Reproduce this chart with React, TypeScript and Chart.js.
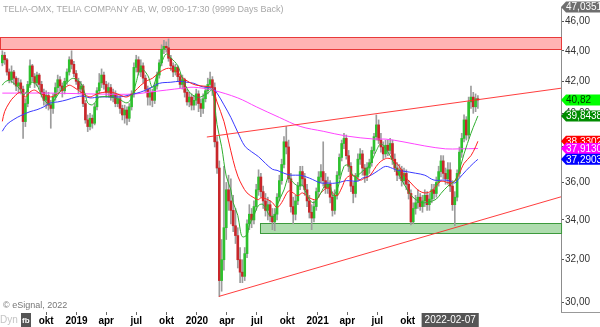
import { useEffect, useRef } from 'react';
import { Chart, registerables } from 'chart.js';
Chart.register(...registerables);

// Weekly candles, index 0 = week of 2018-05-21
const opens = [43.2,43.7,43.4,42.6,42.1,42.6,42.2,41.7,41.9,41.5,39.5,40.6,41.8,43.0,42.3,41.9,42.4,41.8,41.3,40.8,41.1,40.5,40.3,41.0,41.6,42.1,41.7,41.4,42.0,42.6,43.4,43.1,42.5,42.0,41.5,41.7,40.6,39.6,39.2,39.7,39.4,40.4,41.4,41.9,42.4,41.8,41.3,41.6,41.0,41.2,40.6,40.9,40.3,39.9,40.2,39.7,40.4,41.2,42.9,43.4,42.6,43.0,42.2,41.5,41.0,41.3,40.8,41.7,42.4,43.2,44.1,44.3,44.2,43.5,43.0,42.6,42.9,42.3,41.8,42.1,41.3,40.7,41.0,40.5,40.8,41.2,40.6,40.3,40.9,41.4,41.8,42.1,41.6,38.3,36.8,31.0,32.0,33.6,35.6,35.0,34.5,33.7,33.2,32.0,31.4,31.2,32.3,33.8,34.3,34.0,34.7,35.6,36.3,35.5,35.0,34.5,34.8,34.2,33.9,34.3,35.2,36.1,37.0,38.3,38.0,36.2,34.7,34.3,35.0,35.8,36.6,36.2,35.6,35.0,34.4,34.1,34.7,35.5,36.3,36.6,36.1,35.7,35.9,35.2,34.5,35.3,36.4,37.4,38.2,38.5,37.5,36.9,35.8,35.4,36.3,37.3,37.6,36.8,36.4,36.8,37.1,37.8,38.6,39.3,38.4,38.0,37.6,38.1,37.8,38.2,37.3,36.8,36.4,36.7,36.1,36.5,35.9,35.4,33.9,34.6,34.9,35.2,34.7,35.0,35.3,34.8,35.1,35.6,35.4,36.0,36.6,37.2,36.5,36.2,36.7,35.8,34.8,35.2,36.5,37.7,38.5,39.6,38.7,40.7,41.0,40.4,40.9];
const highs = [44.0,43.9,43.5,42.8,43.0,42.7,42.3,42.2,42.1,41.7,40.9,42.0,43.4,43.1,42.5,42.6,42.5,42.0,41.5,41.4,41.3,40.8,41.2,41.9,42.4,42.3,41.9,42.2,42.8,43.6,44.0,43.3,42.7,42.2,42.0,41.8,40.8,39.9,40.0,39.9,40.6,41.6,42.5,42.8,42.6,42.0,41.9,41.8,41.5,41.4,41.2,41.1,40.5,40.5,40.4,40.6,41.4,43.2,43.7,43.6,43.4,43.2,42.4,41.7,41.6,41.5,41.9,42.6,43.4,44.4,44.7,44.6,44.8,43.7,43.2,43.1,43.0,42.5,42.4,42.2,41.5,41.3,41.2,41.1,41.5,41.4,40.9,41.2,41.7,42.2,42.6,42.3,41.9,38.6,37.2,33.0,36.9,36.0,36.4,36.2,35.3,34.6,33.6,32.6,32.0,32.6,34.0,34.8,34.6,35.0,35.9,36.7,36.5,35.8,35.4,35.2,35.0,34.6,34.6,35.4,36.4,37.3,38.6,39.2,38.4,36.5,35.2,35.3,36.0,36.9,36.9,36.5,35.9,35.3,34.8,35.0,35.7,36.6,37.0,38.3,36.5,36.3,36.1,35.5,35.6,36.6,37.6,38.4,38.8,38.7,37.8,37.1,36.0,36.5,37.6,37.9,37.8,37.0,37.1,37.3,38.0,38.8,39.9,39.6,38.8,38.3,38.4,38.4,38.5,38.4,37.6,37.1,37.0,36.9,36.8,36.7,36.1,35.6,34.9,35.3,35.6,35.4,35.3,35.6,35.5,35.4,35.9,35.9,36.3,36.9,37.5,37.5,36.8,37.1,37.1,36.1,35.5,36.7,38.0,38.8,39.9,39.8,41.0,41.7,41.3,41.2,41.1];
const lows = [43.0,43.1,42.4,41.9,41.9,41.8,41.4,41.3,41.2,38.5,39.2,40.4,41.6,42.0,41.6,41.7,41.5,41.0,40.5,40.3,40.2,39.1,40.0,40.8,41.3,41.4,41.0,41.2,41.8,42.4,42.8,42.3,41.8,41.2,41.2,40.4,39.4,38.9,39.0,39.1,39.3,40.2,41.2,41.6,41.5,41.0,41.0,40.8,40.7,40.4,40.4,40.0,39.6,39.4,39.3,39.5,40.2,41.0,42.6,42.4,42.3,41.9,41.3,40.5,40.5,40.4,40.6,41.5,42.2,43.0,43.8,43.9,43.3,42.7,42.3,42.4,42.0,41.6,41.5,41.0,40.5,40.4,40.2,40.2,40.5,40.1,39.8,40.0,40.7,41.2,41.5,41.1,38.0,36.5,30.26,30.5,31.5,33.0,34.5,33.8,33.4,32.8,31.6,30.9,30.9,31.0,32.1,33.5,33.6,33.8,34.5,35.3,35.2,34.6,34.2,34.0,33.9,33.5,33.45,34.0,35.0,35.9,36.8,37.6,36.0,34.4,33.8,34.0,34.8,35.6,35.8,35.3,34.7,34.1,33.5,33.9,34.5,35.2,36.0,35.8,35.4,35.4,34.9,34.2,34.3,35.1,36.2,37.2,37.9,37.3,36.6,35.5,34.9,35.2,36.1,37.0,36.4,36.0,36.1,36.5,36.9,37.6,38.4,38.2,37.7,37.3,37.4,37.5,37.6,37.0,36.6,36.1,36.2,35.8,35.9,35.6,35.1,33.75,33.8,34.3,34.6,34.5,34.4,34.7,34.5,34.5,34.9,35.1,35.2,35.8,36.3,36.2,35.9,35.9,35.5,34.5,33.7,35.0,36.3,37.4,38.3,38.4,38.5,40.3,40.0,40.1,40.3];
const closes = [43.7,43.4,42.6,42.1,42.6,42.2,41.7,41.9,41.5,39.5,40.6,41.8,43.0,42.3,41.9,42.4,41.8,41.3,40.8,41.1,40.5,40.3,41.0,41.6,42.1,41.7,41.4,42.0,42.6,43.4,43.1,42.5,42.0,41.5,41.7,40.6,39.6,39.2,39.7,39.4,40.4,41.4,41.9,42.4,41.8,41.3,41.6,41.0,41.2,40.6,40.9,40.3,39.9,40.2,39.7,40.4,41.2,42.9,43.4,42.6,43.0,42.2,41.5,41.0,41.3,40.8,41.7,42.4,43.2,44.1,44.3,44.2,43.5,43.0,42.6,42.9,42.3,41.8,42.1,41.3,40.7,41.0,40.5,40.8,41.2,40.6,40.3,40.9,41.4,41.8,42.1,41.6,38.3,36.8,31.0,32.0,33.6,35.6,35.0,34.5,33.7,33.2,32.0,31.4,31.2,32.3,33.8,34.3,34.0,34.7,35.6,36.3,35.5,35.0,34.5,34.8,34.2,33.9,34.3,35.2,36.1,37.0,38.3,38.0,36.2,34.7,34.3,35.0,35.8,36.6,36.2,35.6,35.0,34.4,34.1,34.7,35.5,36.3,36.6,36.1,35.7,35.9,35.2,34.5,35.3,36.4,37.4,38.2,38.5,37.5,36.9,35.8,35.4,36.3,37.3,37.6,36.8,36.4,36.8,37.1,37.8,38.6,39.3,38.4,38.0,37.6,38.1,37.8,38.2,37.3,36.8,36.4,36.7,36.1,36.5,35.9,35.4,33.9,34.6,34.9,35.2,34.7,35.0,35.3,34.8,35.1,35.6,35.4,36.0,36.6,37.2,36.5,36.2,36.7,35.8,34.8,35.2,36.5,37.7,38.5,39.6,38.7,40.7,41.0,40.4,40.9,40.82];

// Moving averages: [week index, value]
const maGreen = [[0,41.75],[1,41.94],[3,42.06],[5,41.87],[8,41.44],[9,41.13],[11,41.44],[12,41.87],[13,41.94],[15,41.75],[16,41.44],[18,40.83],[21,40.52],[22,40.7],[24,41.13],[26,41.56],[29,42.06],[31,42.19],[34,41.87],[36,41.13],[37,40.64],[39,40.52],[41,40.83],[42,41.0],[47,41.01],[51,40.83],[54,40.64],[56,40.95],[58,41.94],[60,42.82],[63,42.38],[65,41.62],[67,42.38],[69,43.2],[71,43.79],[73,43.53],[76,43.01],[78,42.19],[81,41.32],[84,41.01],[86,41.01],[89,41.25],[91,41.44],[93,39.33],[95,38.01],[97,36.35],[99,35.59],[100,34.91],[102,34.24],[103,33.53],[104,33.14],[106,33.24],[107,33.74],[109,34.24],[111,34.76],[113,34.81],[116,34.2],[118,34.2],[119,34.76],[122,35.59],[124,36.35],[125,36.13],[128,35.81],[130,35.86],[131,35.59],[133,35.07],[135,34.91],[138,35.43],[140,35.86],[142,35.81],[143,35.28],[145,35.59],[148,36.89],[150,36.95],[152,36.35],[154,36.4],[156,36.62],[159,36.95],[162,37.78],[164,38.18],[167,37.72],[169,37.22],[171,36.67],[173,36.13],[175,35.7],[177,35.3],[180,35.0],[182,34.9],[185,34.95],[188,35.1],[190,35.4],[193,35.8],[196,36.1],[198,36.7],[200,37.6],[203,38.8],[205,39.5],[206,39.84]];
const maRed = [[0,39.51],[1,40.1],[3,40.64],[5,41.01],[8,41.32],[10,41.01],[12,41.32],[14,41.44],[16,41.25],[18,41.13],[21,41.01],[23,41.13],[25,41.32],[27,41.56],[29,41.75],[31,41.62],[34,41.32],[36,41.13],[38,41.01],[40,41.13],[42,41.25],[47,41.32],[51,41.13],[54,41.01],[57,41.32],[60,41.75],[63,42.06],[65,42.19],[68,42.57],[71,42.82],[73,42.82],[76,42.57],[78,42.25],[81,41.94],[84,41.75],[88,41.68],[91,41.56],[93,40.7],[96,39.51],[98,38.35],[100,37.22],[102,36.35],[104,35.81],[106,35.43],[109,35.17],[111,35.07],[112,35.17],[115,35.07],[117,34.91],[119,34.65],[121,34.91],[124,35.54],[126,35.43],[128,35.28],[130,35.43],[133,35.17],[136,35.07],[138,35.43],[141,35.7],[143,35.43],[145,35.28],[147,35.7],[149,36.24],[152,36.4],[155,36.13],[157,36.24],[159,36.35],[163,37.06],[166,37.33],[168,37.33],[170,37.17],[172,36.89],[174,36.4],[177,35.97],[180,35.59],[183,35.43],[186,35.54],[188,35.81],[190,36.07],[194,35.97],[196,36.07],[198,36.51],[200,37.06],[203,37.5],[205,38.01],[206,38.33]];
const maBlue = [[0,38.92],[2,39.33],[5,39.63],[8,39.86],[12,40.1],[15,40.22],[18,40.4],[21,40.64],[24,40.7],[28,40.83],[32,41.01],[35,41.07],[38,40.95],[42,41.01],[47,41.01],[51,41.01],[55,41.13],[60,41.32],[64,41.56],[68,41.87],[73,41.94],[77,42.0],[80,41.94],[83,41.87],[86,41.68],[88,41.62],[91,41.56],[93,41.25],[96,40.52],[99,39.75],[102,38.86],[105,38.06],[108,37.72],[111,37.44],[114,37.06],[117,36.73],[119,36.67],[122,36.51],[125,36.4],[129,36.4],[133,36.24],[138,35.97],[141,35.97],[143,35.95],[146,36.0],[149,36.1],[154,36.07],[156,36.24],[159,36.35],[163,36.67],[166,36.89],[169,36.78],[171,36.67],[174,36.62],[179,36.51],[183,36.4],[187,36.13],[192,36.13],[194,36.07],[196,35.97],[198,36.24],[201,36.67],[204,37.06],[206,37.29]];
const maMagenta = [[0,41.25],[21,41.25],[42,41.19],[57,41.19],[64,41.32],[71,41.44],[78,41.56],[83,41.62],[91,41.44],[102,40.95],[110,40.4],[120,39.75],[129,39.21],[139,38.92],[149,38.64],[161,38.46],[166,38.46],[174,38.29],[183,38.06],[192,37.89],[198,37.89],[206,37.91]];

// Trend lines and zones (data coordinates)
const trendUpper = [[88.6,38.58],[242,41.56]];
const trendLower = [[93.8,30.26],[242,35.22]];
const resistanceZone = [44.07, 44.91];
const resistanceStart = -1;
const supportZone = [33.32, 33.84];
const supportStart = 111.6;

// Axes
const tickPositions = [19,32.14,45,58,71.14,84.29,97.29,110.29,123.43,136.57,149.43,162.43,175.57];
const tickLabels = ['okt','2019','apr','jul','okt','2020','apr','jul','okt','2021','apr','jul','okt'];
const yTicks = [30,32,34,36,38,40,42,44,46];
const yMin = 29.55;
const yMax = 47.0351;
const xMin = -1;
const xMax = 242;

// Price tags on the right axis
const tagValues = [47.0351, 40.82, 39.8438, 38.3302, 37.913, 37.2903];
const tagTexts = ['47,0351','40,82','39,8438','38,3302','37,9130','37,2903'];
const tagColors = ['#6e6e6e','#00ff00','#008c00','#ff0000','#ff00ff','#0000ff'];
const tagTextColors = ['#ffffff','#003300','#ffffff','#ffffff','#ffffff','#ffffff'];

const cursorIndex = 194;
const cursorLabel = '2022-02-07';
const title = 'TELIA-OMX, TELIA COMPANY AB, W, 09:00-17:30 (9999 Days Back)';

const FONT = "'Liberation Sans', Arial, sans-serif";

export default function App() {
  const ref = useRef<HTMLCanvasElement>(null);
  useEffect(() => {
    if (!ref.current) return;
    const pts = (a: number[][]) => a.map(([x, y]) => ({ x, y }));
    const zonePlugin = {
      id: 'zones',
      beforeDatasetsDraw(chart: any) {
        const { ctx, chartArea } = chart;
        const xs = chart.scales.x, ys = chart.scales.y;
        const draw = (start: number, z: number[], fill: string, stroke: string) => {
          const x0 = Math.max(chartArea.left, xs.getPixelForValue(start));
          const x1 = chartArea.right;
          const yTop = ys.getPixelForValue(z[1]);
          const yBot = ys.getPixelForValue(z[0]);
          ctx.save();
          ctx.fillStyle = fill;
          ctx.fillRect(x0, yTop, x1 - x0, yBot - yTop);
          ctx.strokeStyle = stroke;
          ctx.lineWidth = 1;
          ctx.strokeRect(Math.round(x0) + 0.5, Math.round(yTop) + 0.5, x1 - x0, Math.round(yBot - yTop));
          ctx.restore();
        };
        draw(resistanceStart, resistanceZone, 'rgba(255,160,160,0.8)', '#e83a3a');
        draw(supportStart, supportZone, 'rgba(140,205,140,0.7)', '#3c9a3c');
      },
    };
    const overlay = {
      id: 'overlay',
      afterDraw(chart: any) {
        const { ctx, chartArea } = chart;
        const xs = chart.scales.x, ys = chart.scales.y;
        ctx.save();
        ctx.font = `9px ${FONT}`;
        ctx.fillStyle = '#a8a8a8';
        ctx.textBaseline = 'middle';
        ctx.textAlign = 'left';
        ctx.fillText(title, 3, 10);
        ctx.font = `9px ${FONT}`;
        ctx.fillStyle = '#777';
        ctx.fillText('\u00a9 eSignal, 2022', 3, 306);
        // axis panel bottom line
        ctx.strokeStyle = '#999';
        ctx.lineWidth = 1;
        ctx.beginPath();
        ctx.moveTo(chartArea.right, chartArea.bottom + 0.5);
        ctx.lineTo(600, chartArea.bottom + 0.5);
        ctx.stroke();
        // tags
        ctx.font = `10px ${FONT}`;
        tagValues.forEach((v, i) => {
          let y = ys.getPixelForValue(v);
          if (i === 0) y = Math.max(y, 1);
          const x = chartArea.right;
          ctx.fillStyle = tagColors[i];
          ctx.beginPath();
          ctx.moveTo(x, y);
          ctx.lineTo(x + 5, y - 5.5);
          ctx.lineTo(600, y - 5.5);
          ctx.lineTo(600, y + 5.5);
          ctx.lineTo(x + 5, y + 5.5);
          ctx.closePath();
          ctx.fill();
          ctx.fillStyle = tagTextColors[i];
          ctx.fillText(tagTexts[i], x + 5, y + 0.5);
        });
        // cursor date box
        const cx = xs.getPixelForValue(cursorIndex);
        ctx.font = `10px ${FONT}`;
        const w = ctx.measureText(cursorLabel).width + 6;
        ctx.fillStyle = '#555';
        ctx.fillRect(cx - w / 2, chartArea.bottom + 1, w, 14);
        ctx.fillStyle = '#fff';
        ctx.textAlign = 'center';
        ctx.fillText(cursorLabel, cx, chartArea.bottom + 8.5);
        // Dyn + icon
        ctx.textAlign = 'left';
        ctx.fillStyle = '#c4c4c4';
        ctx.fillText('Dyn', 0, chartArea.bottom + 8.5);
        ctx.fillStyle = '#555';
        ctx.fillRect(21, chartArea.bottom + 1, 10, 14);
        ctx.fillStyle = '#fff';
        ctx.font = `bold 8px ${FONT}`;
        ctx.fillText('fb', 22, chartArea.bottom + 9);
        ctx.restore();
      },
    };
    const chart = new Chart(ref.current, {
      type: 'bar',
      data: {
        datasets: [
          {
            type: 'line', data: pts(trendUpper), borderColor: 'rgba(255,40,40,0.9)', borderWidth: 1,
            pointRadius: 0, order: 0,
          } as any,
          {
            type: 'line', data: pts(trendLower), borderColor: 'rgba(255,40,40,0.9)', borderWidth: 1,
            pointRadius: 0, order: 0,
          } as any,
          { type: 'line', data: pts(maGreen), borderColor: '#2fae2f', borderWidth: 1, pointRadius: 0, tension: 0.35, order: 1 } as any,
          { type: 'line', data: pts(maRed), borderColor: '#ff2020', borderWidth: 1, pointRadius: 0, tension: 0.35, order: 1 } as any,
          { type: 'line', data: pts(maBlue), borderColor: '#3a3aff', borderWidth: 1, pointRadius: 0, tension: 0.35, order: 1 } as any,
          { type: 'line', data: pts(maMagenta), borderColor: '#ff44ff', borderWidth: 1, pointRadius: 0, tension: 0.35, order: 1 } as any,
          {
            type: 'bar',
            data: opens.map((o, i) => ({ x: i, y: [o, closes[i]] })),
            backgroundColor: (c: any) => {
              const i = c.dataIndex;
              return closes[i] >= opens[i] ? '#2ec12e' : '#c8262a';
            },
            barThickness: 2, grouped: false, minBarLength: 1, order: 2,
          } as any,
          {
            type: 'bar',
            data: highs.map((h, i) => ({ x: i, y: [lows[i], h] })),
            backgroundColor: '#9c9c9c',
            barThickness: 1, grouped: false, order: 3,
          } as any,
        ],
      },
      options: {
        animation: false,
        responsive: false,
        devicePixelRatio: 1,
        layout: { padding: 0 },
        plugins: { legend: { display: false }, tooltip: { enabled: false } },
        scales: {
          x: {
            type: 'linear', min: xMin, max: xMax, offset: false,
            afterBuildTicks: (s: any) => { s.ticks = tickPositions.map((v) => ({ value: v })); },
            afterFit: (s: any) => { s.height = 15; },
            ticks: {
              autoSkip: false, maxRotation: 0, padding: 0, color: '#000',
              font: { family: FONT, size: 10, weight: 'bold' },
              callback: (_v: any, i: number) => tickLabels[i] ?? '',
            },
            grid: { drawOnChartArea: false, drawTicks: true, tickLength: 3, color: '#666', offset: false },
            border: { display: false },
          },
          y: {
            type: 'logarithmic', position: 'right', min: yMin, max: yMax, beginAtZero: false,
            afterBuildTicks: (s: any) => { s.ticks = yTicks.map((v) => ({ value: v })); },
            afterFit: (s: any) => { s.width = 39; },
            ticks: {
              padding: 1, color: '#333', font: { family: FONT, size: 10 },
              callback: (v: any) => Number(v).toFixed(2).replace('.', ','),
            },
            grid: { drawOnChartArea: false, drawTicks: true, tickLength: 3, color: '#555' },
            border: { display: true, color: '#8c8c8c', width: 1 },
          },
        },
      } as any,
      plugins: [zonePlugin, overlay],
    });
    return () => chart.destroy();
  }, []);
  return (
    <div style={{ position: 'fixed', left: 0, top: 0, width: 600, height: 327, background: '#fff' }}>
      <canvas ref={ref} width={600} height={327} style={{ display: 'block' }} />
    </div>
  );
}
